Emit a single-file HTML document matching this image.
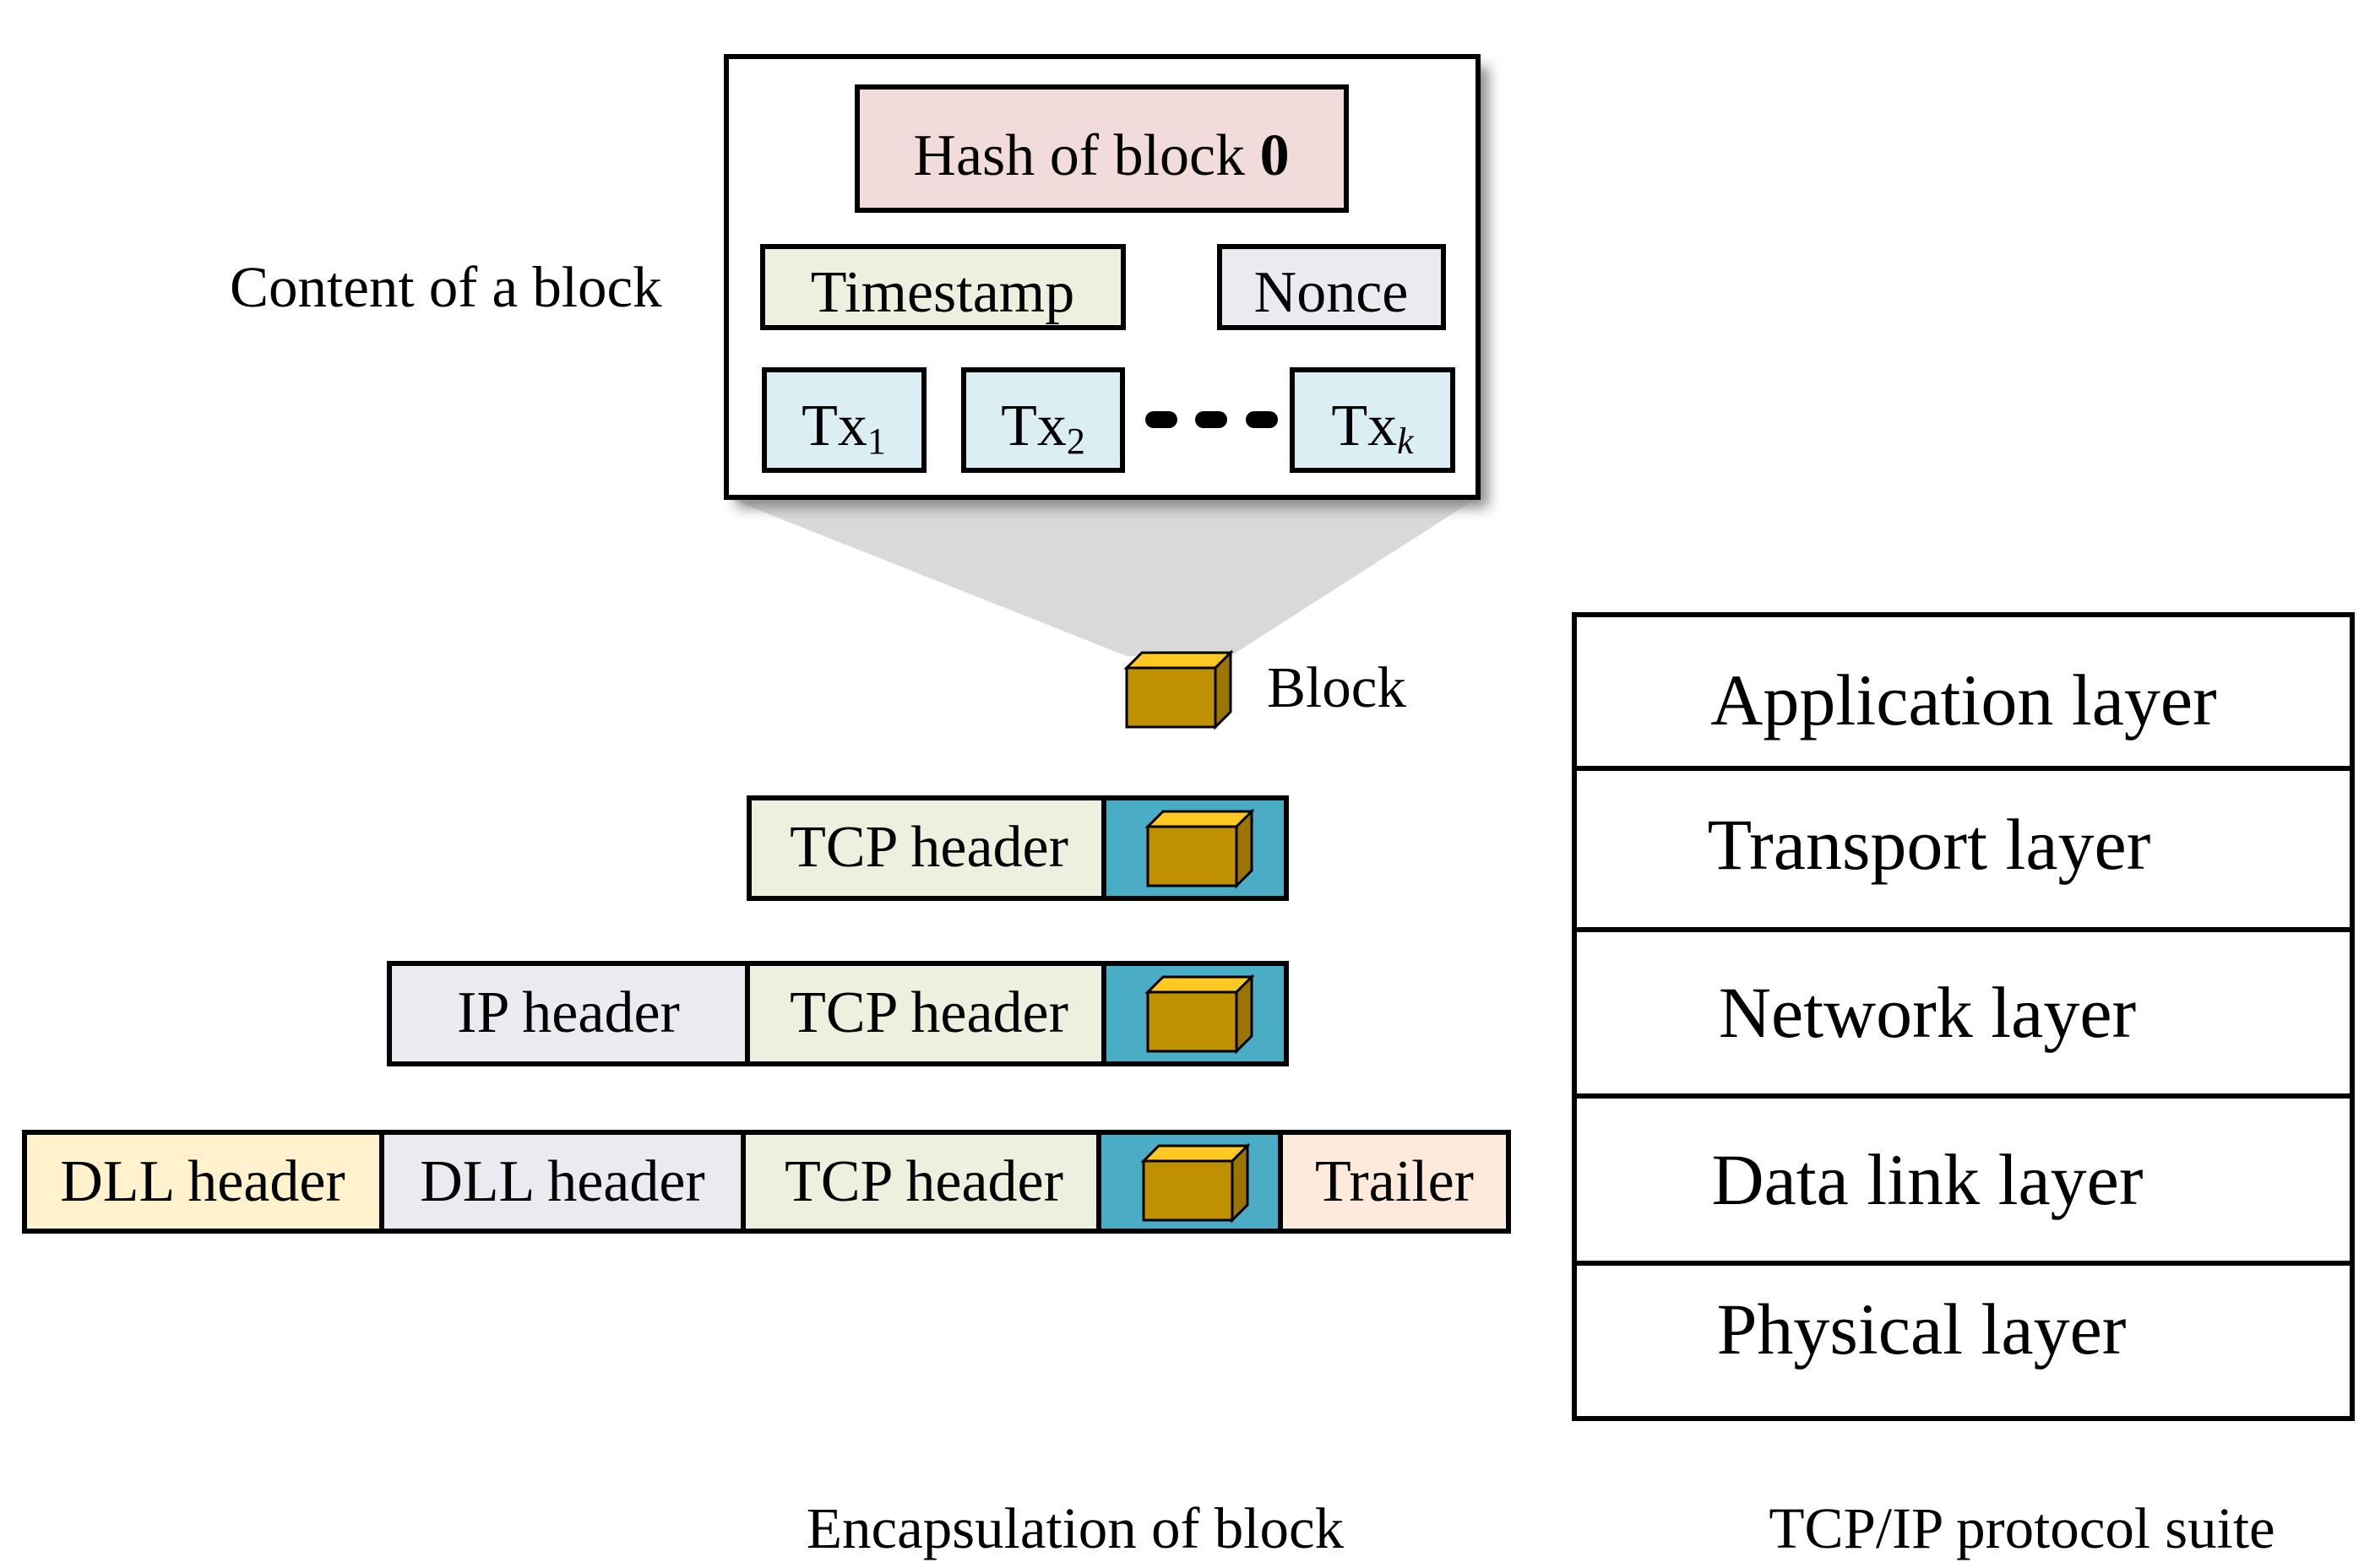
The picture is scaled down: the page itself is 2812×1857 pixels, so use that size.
<!DOCTYPE html>
<html><head><meta charset="utf-8"><style>
html,body{margin:0;padding:0;background:#fff}
svg{display:block}
text{font-family:"Liberation Serif",serif;fill:#000}
</style></head><body>
<svg width="2812" height="1857" viewBox="0 0 2812 1857" xmlns="http://www.w3.org/2000/svg">
<defs>
<filter id="sh" x="-5%" y="-5%" width="115%" height="115%"><feGaussianBlur stdDeviation="8"/></filter>
<g id="cube">
<polygon points="0,18 18,0 123,0 105,18" fill="#ffc823" stroke="#000" stroke-width="3"/>
<polygon points="105,18 123,0 123,70 105,88" fill="#9c7500" stroke="#000" stroke-width="3"/>
<rect x="0" y="18" width="105" height="70" fill="#bf9000" stroke="#000" stroke-width="3"/>
</g>
</defs>
<polygon points="860,589 1750,589 1457,777 1334,777" fill="#d9d9d9"/>
<rect x="872" y="79" width="890" height="522" fill="#888" filter="url(#sh)"/>
<rect x="860" y="67" width="890" height="522" fill="#fff" stroke="#000" stroke-width="6"/>
<rect x="1015" y="103" width="579" height="146" fill="#f2dcdb" stroke="#000" stroke-width="6"/>
<text x="1304" y="207" font-size="70" text-anchor="middle">Hash of block <tspan font-weight="bold">0</tspan></text>
<rect x="903" y="292" width="427" height="96" fill="#ebf1de" stroke="#000" stroke-width="6"/>
<text x="1116" y="369" font-size="70" text-anchor="middle">Timestamp</text>
<rect x="1444" y="292" width="265" height="96" fill="#ece9f1" stroke="#000" stroke-width="6"/>
<text x="1576" y="369" font-size="70" text-anchor="middle">Nonce</text>
<rect x="905" y="438" width="189" height="119" fill="#dbeef4" stroke="#000" stroke-width="6"/>
<text x="999" y="527" font-size="70" text-anchor="middle">Tx<tspan font-size="44" dy="10">1</tspan></text>
<rect x="1141" y="438" width="188" height="119" fill="#dbeef4" stroke="#000" stroke-width="6"/>
<text x="1235" y="527" font-size="70" text-anchor="middle">Tx<tspan font-size="44" dy="10">2</tspan></text>
<rect x="1530" y="438" width="190" height="119" fill="#dbeef4" stroke="#000" stroke-width="6"/>
<text x="1625" y="527" font-size="70" text-anchor="middle">Tx<tspan font-size="44" dy="10" font-style="italic">k</tspan></text>
<g stroke="#000" stroke-width="20" stroke-linecap="round">
<line x1="1366" y1="497" x2="1384" y2="497"/><line x1="1425" y1="497" x2="1443" y2="497"/><line x1="1485" y1="497" x2="1503" y2="497"/>
</g>
<text x="272" y="363" font-size="69">Content of a block</text>
<use href="#cube" x="1334" y="773"/>
<text x="1500" y="837" font-size="69">Block</text>

<rect x="887" y="945" width="420" height="119" fill="#ebf1de" stroke="#000" stroke-width="6"/>
<rect x="1307" y="945" width="216" height="119" fill="#4bacc6" stroke="#000" stroke-width="6"/>
<text x="1100" y="1026" font-size="70" text-anchor="middle">TCP header</text>
<use href="#cube" x="1359" y="961"/>
<rect x="461" y="1141" width="424" height="119" fill="#ece9f1" stroke="#000" stroke-width="6"/>
<rect x="885" y="1141" width="422" height="119" fill="#ebf1de" stroke="#000" stroke-width="6"/>
<rect x="1307" y="1141" width="216" height="119" fill="#4bacc6" stroke="#000" stroke-width="6"/>
<text x="673" y="1222" font-size="70" text-anchor="middle">IP header</text>
<text x="1100" y="1222" font-size="70" text-anchor="middle">TCP header</text>
<use href="#cube" x="1359" y="1157"/>
<rect x="29" y="1341" width="423" height="117" fill="#fff2cc" stroke="#000" stroke-width="6"/>
<rect x="452" y="1341" width="428" height="117" fill="#ece9f1" stroke="#000" stroke-width="6"/>
<rect x="880" y="1341" width="421" height="117" fill="#ebf1de" stroke="#000" stroke-width="6"/>
<rect x="1301" y="1341" width="215" height="117" fill="#4bacc6" stroke="#000" stroke-width="6"/>
<rect x="1516" y="1341" width="270" height="117" fill="#fdeada" stroke="#000" stroke-width="6"/>
<text x="240" y="1422" font-size="70" text-anchor="middle">DLL header</text>
<text x="666" y="1422" font-size="70" text-anchor="middle">DLL header</text>
<text x="1094" y="1422" font-size="70" text-anchor="middle">TCP header</text>
<text x="1651" y="1422" font-size="70" text-anchor="middle">Trailer</text>
<use href="#cube" x="1354" y="1357"/>

<rect x="1864" y="728" width="921" height="952" fill="#fff" stroke="#000" stroke-width="6"/>
<g stroke="#000" stroke-width="6">
<line x1="1864" y1="910" x2="2785" y2="910"/>
<line x1="1864" y1="1101" x2="2785" y2="1101"/>
<line x1="1864" y1="1298" x2="2785" y2="1298"/>
<line x1="1864" y1="1496" x2="2785" y2="1496"/>
</g>
<g font-size="86" text-anchor="middle">
<text x="2325" y="858">Application layer</text>
<text x="2284" y="1029">Transport layer</text>
<text x="2282" y="1228">Network layer</text>
<text x="2282" y="1426">Data link layer</text>
<text x="2275" y="1603">Physical layer</text>
</g>
<text x="1273" y="1833" font-size="69" text-anchor="middle">Encapsulation of block</text>
<text x="2394" y="1833" font-size="69" text-anchor="middle">TCP/IP protocol suite</text>
</svg>
</body></html>
